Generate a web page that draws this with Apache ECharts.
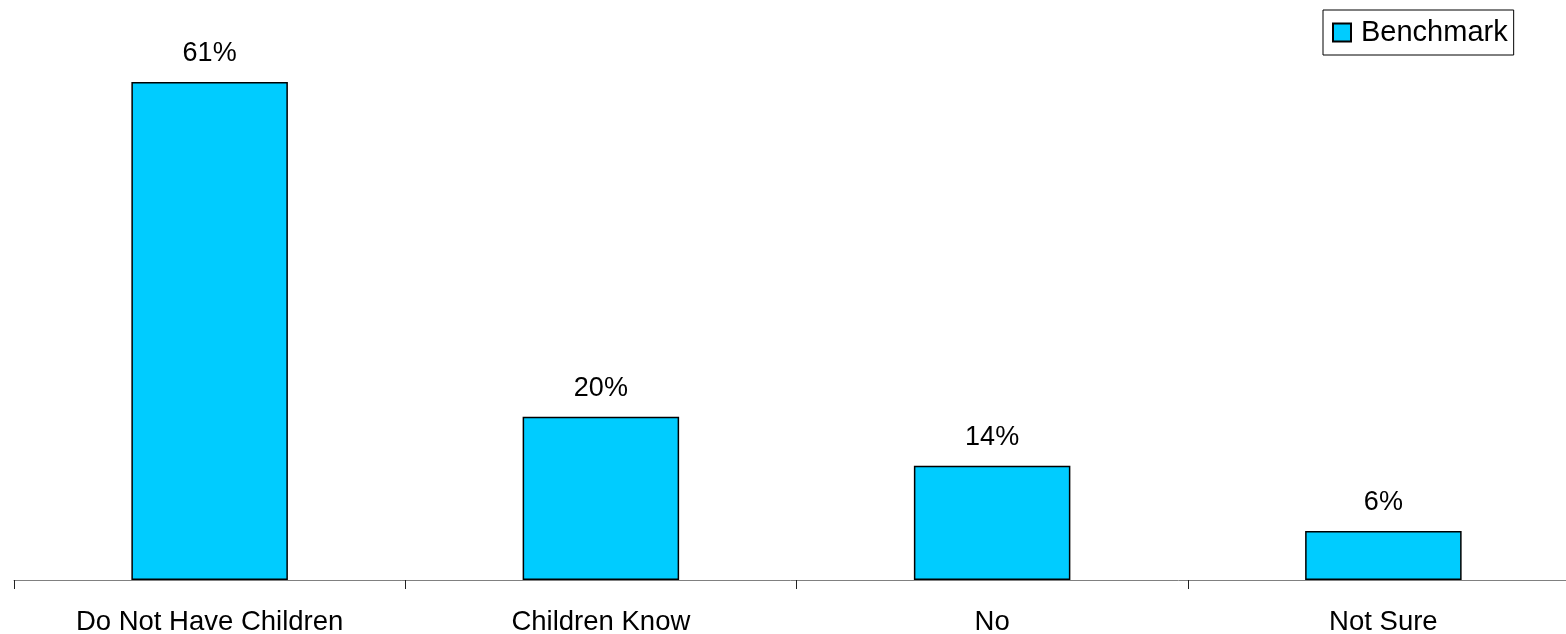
<!DOCTYPE html>
<html><head><meta charset="utf-8">
<script src="https://cdn.jsdelivr.net/npm/echarts@6/dist/echarts.min.js"></script>
<style>html,body{margin:0;padding:0;background:#fff}#c{width:1566px;height:634px}</style>
</head><body><div id="c"></div>
<script>
const categories = ["Do Not Have Children", "Children Know", "No", "Not Sure"];
const benchmark = [61, 20, 14, 6];
const seriesName = "Benchmark";

const chart = echarts.init(document.getElementById('c'), null, {renderer: 'canvas'});
const font = 'Liberation Sans, Arial, sans-serif';
chart.setOption({
  animation: false,
  backgroundColor: '#fff',
  legend: {
    data: [seriesName],
    left: 1323, top: 10,
    padding: [8, 6, 8, 9],
    borderColor: '#000', borderWidth: 1,
    itemWidth: 18, itemHeight: 18,
    icon: 'rect',
    textStyle: {fontFamily: font, fontSize: 29, color: '#000', padding: [0, 0, 0, 5]}
  },
  grid: {left: 14, width: 1565, top: 8.5, bottom: 54, containLabel: false, outerBoundsMode: 'none'},
  xAxis: {
    type: 'category', data: categories,
    axisLine: {lineStyle: {color: '#808080', width: 1}},
    axisTick: {show: true, length: 9, lineStyle: {color: '#222'}},
    axisLabel: {fontFamily: font, fontSize: 27.5, color: '#000', margin: 28}
  },
  yAxis: {type: 'value', min: 0, max: 70, show: false, splitLine: {show: false}},
  series: [{
    name: seriesName, type: 'bar', data: benchmark, barWidth: '40%',
    itemStyle: {color: '#00CCFF', borderColor: '#000', borderWidth: 1.5},
    label: {show: true, position: 'top', distance: 15, formatter: '{c}%',
      fontFamily: font, fontSize: 27, color: '#000'}
  }]
});
</script></body></html>
